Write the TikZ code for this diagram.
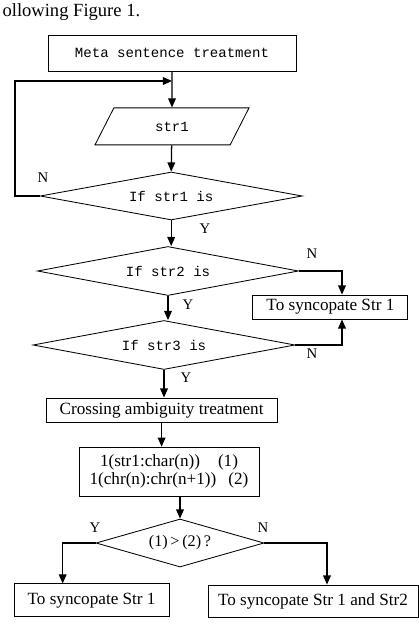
\documentclass[tikz,border=0pt]{standalone}
\usepackage{fontspec}
\setmainfont{Liberation Serif}
\setmonofont{Liberation Mono}
\usetikzlibrary{shapes.geometric,arrows.meta}

\begin{document}
\begin{tikzpicture}[>={Triangle[length=6.5pt,width=5.5pt]},
    proc/.style={draw, line width=0.6pt, inner sep=1pt, font=\fontsize{12.2}{13}\selectfont},
    mproc/.style={proc, font=\fontsize{10}{12}\ttfamily},
    test/.style={draw, diamond, line width=0.6pt, inner sep=0pt, font=\fontsize{10}{12}\ttfamily},
    lab/.style={font=\fontsize{10.5}{12}\selectfont},
    flow/.style={->, line width=0.9pt}]
    \useasboundingbox (0,0) rectangle (10.45,-15.85);
    \node[anchor=west, font=\fontsize{13.2}{15}\selectfont] (head) at (-0.06,-0.3) {ollowing Figure 1.};
    \node[mproc, minimum width=6.2cm, minimum height=0.9cm] (meta) at (4.3,-1.325) {Meta sentence treatment};
    \node[draw, trapezium, trapezium left angle=45, trapezium right angle=135, trapezium stretches body,
        line width=0.6pt, minimum width=3.85cm, minimum height=0.925cm, font=\fontsize{10}{12}\ttfamily] (s1) at (4.3,-3.16) {str1};
    \node[test, shape aspect=5.4, minimum width=6.55cm, minimum height=1.2cm] (d1) at (4.28,-4.9) {If str1 is};
    \node[test, shape aspect=5.4, minimum width=6.525cm, minimum height=1.225cm] (d2) at (4.2,-6.775) {If str2 is};
    \node[test, shape aspect=5.4, minimum width=6.55cm, minimum height=1.225cm] (d3) at (4.1,-8.625) {If str3 is};
    \node[proc, minimum width=3.875cm, minimum height=0.6cm] (syn1) at (8.26,-7.675) {To syncopate Str 1};
    \node[proc, minimum width=5.775cm, minimum height=0.6cm] (cross) at (4.04,-10.25) {Crossing ambiguity treatment};
    \node[proc, align=center, minimum width=4.5cm, minimum height=1.225cm] (rate) at (4.225,-11.79)
        {1(str1:char(n))\hspace{0.45cm}(1)\\1(chr(n):chr(n+1))\hspace{0.3cm}(2)};
    \node[test, shape aspect=3.5, minimum width=4.2cm, minimum height=1.2cm,
        font=\fontsize{11.5}{13}\selectfont] (d4) at (4.5,-13.575) {(1)\,>\,(2)\,?};
    \node[proc, minimum width=3.875cm, minimum height=0.825cm] (fin1) at (2.29,-15.01) {To syncopate Str 1};
    \node[proc, minimum width=5.25cm, minimum height=0.8cm] (fin2) at (7.825,-15.025) {To syncopate Str 1 and Str2};
    \coordinate (loop) at (0.375,-2.025);
    \coordinate (join) at (4.3,-2.025);
    \node[lab] (n1) at (1.075,-4.45) {N};
    \node[lab] (y1) at (5.125,-5.725) {Y};
    \node[lab] (n2) at (7.8,-6.35) {N};
    \node[lab] (y2) at (4.7,-7.625) {Y};
    \node[lab] (n3) at (7.8,-8.85) {N};
    \node[lab] (y3) at (4.65,-9.45) {Y};
    \node[lab] (y4) at (2.375,-13.2) {Y};
    \node[lab] (n4) at (6.575,-13.2) {N};
    \draw[flow] (meta) -- (s1);
    \draw[flow] (d1.west) -| (loop) -- (join);
    \draw[flow] (s1) -- (d1.north);
    \draw[flow] (d1.south) -- (d1.south |- d2.north);
    \draw[flow] (d2.south) -- (d2.south |- d3.north);
    \draw[flow] (d2.east) -| ([xshift=0.29cm]syn1.north);
    \draw[flow] (d3.east) -| ([xshift=0.29cm]syn1.south);
    \draw[flow] (d3.south) -- (d3.south |- cross.north);
    \draw[flow] (cross.south) -- (cross.south |- rate.north);
    \draw[flow] (d4.north |- rate.south) -- (d4.north);
    \draw[flow] (d4.west) -| ([xshift=1.225cm]fin1.north west);
    \draw[flow] (d4.east) -| ([xshift=0.35cm]fin2.north);
\end{tikzpicture}
\end{document}
